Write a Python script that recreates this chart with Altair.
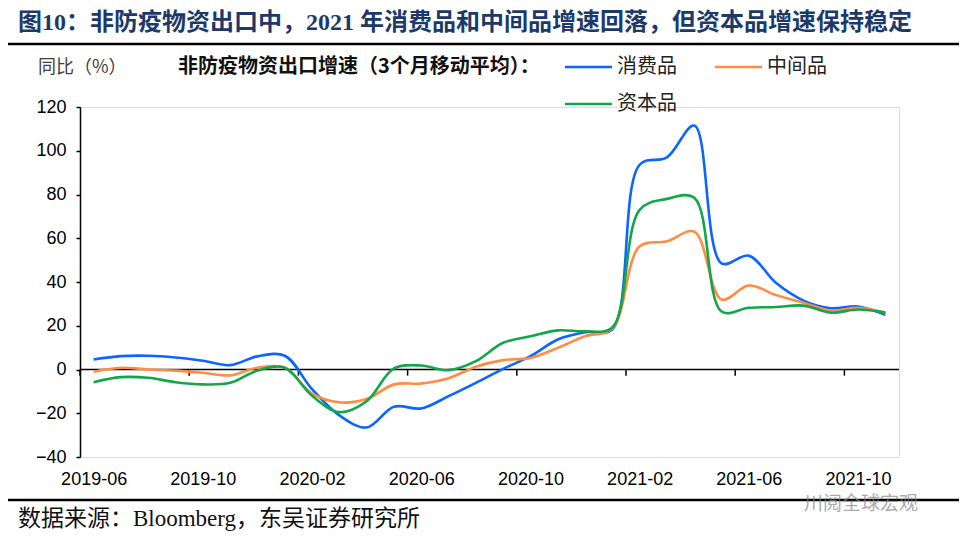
import json
import altair as alt
import pandas as pd

# ---------------- data ----------------
months = [
    "2019-06", "2019-07", "2019-08", "2019-09", "2019-10", "2019-11", "2019-12",
    "2020-01", "2020-02", "2020-03", "2020-04", "2020-05", "2020-06", "2020-07",
    "2020-08", "2020-09", "2020-10", "2020-11", "2020-12", "2021-01", "2021-02",
    "2021-03", "2021-04", "2021-05", "2021-06", "2021-07", "2021-08", "2021-09",
    "2021-10", "2021-11",
]
consumer = [4.6, 6.1, 6.3, 5.5, 4.0, 2.0, 6.0, 6.3, -9.0, -21.0, -26.5, -17.0,
            -17.8, -12.2, -6.1, 0.3, 6.1, 13.7, 17.0, 18.3, 93.6, 97.0, 111.5,
            48.5, 52.0, 39.5, 31.5, 28.0, 28.8, 25.0]
intermediate = [-1.0, 0.8, 0.0, -0.5, -1.5, -2.7, 0.8, 0.8, -11.0, -15.0, -13.5,
                -6.8, -6.4, -4.0, 1.3, 4.3, 5.3, 9.9, 15.2, 18.7, 56.3, 58.6,
                63.0, 32.0, 38.4, 34.0, 30.5, 27.0, 28.2, 26.0]
capital = [-5.8, -3.5, -3.8, -5.8, -6.8, -6.1, -0.5, 0.8, -12.0, -19.5, -14.5,
           0.5, 1.8, -0.3, 3.8, 12.2, 15.2, 17.9, 17.5, 19.2, 73.0, 78.0, 78.5,
           26.5, 28.2, 28.6, 29.2, 26.0, 27.4, 26.0]

series_names = ["消费品", "中间品", "资本品"]
series_values = [consumer, intermediate, capital]
colors = ["#0A66FF", "#FF8C42", "#12A64B"]

x_label_idx = [0, 4, 8, 12, 16, 20, 24, 28]          # 2019-06, 2019-10, ...
x_tick_bounds = [-0.5, 3.5, 7.5, 11.5, 15.5, 19.5, 23.5, 27.5]
y_ticks = [-40, -20, 0, 20, 40, 60, 80, 100, 120]

title_text = "图10：非防疫物资出口中，2021 年消费品和中间品增速回落，但资本品增速保持稳定"
legend_header = "非防疫物资出口增速（3个月移动平均）："
y_label = "同比（%）"
source_text = "数据来源：Bloomberg，东吴证券研究所"
watermark = "川阅全球宏观"

# ---------------- build table ----------------
rows = []
for name, vals in zip(series_names, series_values):
    for i, (m, v) in enumerate(zip(months, vals)):
        rows.append({"idx": i, "month": m, "series": name, "value": v})
df = pd.DataFrame(rows)

W, H = 819, 350
x_scale = alt.Scale(domain=[-0.5, len(months) - 0.5], nice=False, zero=False)
y_scale = alt.Scale(domain=[-40, 120], nice=False, zero=False)

label_expr = json.dumps(months) + "[datum.value]"

base = alt.Chart(df)

x_enc = alt.X(
    "idx:Q", scale=x_scale,
    axis=alt.Axis(values=x_label_idx, labelExpr=label_expr, domain=False,
                  ticks=False, grid=False, title=None, labelFontSize=18,
                  labelFont="Liberation Sans", labelColor="#000000",
                  labelPadding=13),
)
y_enc = alt.Y(
    "value:Q", scale=y_scale,
    axis=alt.Axis(values=y_ticks, grid=False, title=None, tickSize=4,
                  tickColor="#000000", tickWidth=1.5, domainColor="#000000",
                  domainWidth=1.5, labelFontSize=18, labelFont="Liberation Sans",
                  labelColor="#000000", labelPadding=10),
)

line_layers = []
for name, col in zip(series_names, colors):
    line_layers.append(
        base.transform_filter(alt.datum.series == name)
        .mark_line(interpolate="catmull-rom", strokeWidth=2.6, color=col)
        .encode(x=x_enc, y=y_enc)
    )

zero_line = alt.Chart(pd.DataFrame({"z": [0]})).mark_rule(
    color="#000000", strokeWidth=1.5
).encode(y=alt.Y("z:Q", scale=y_scale))

ticks_df = pd.DataFrame({"b": x_tick_bounds, "y0": [0] * len(x_tick_bounds),
                         "y1": [-2.8] * len(x_tick_bounds)})
x_ticks = alt.Chart(ticks_df).mark_rule(color="#000000", strokeWidth=1.5).encode(
    x=alt.X("b:Q", scale=x_scale),
    y=alt.Y("y0:Q", scale=y_scale),
    y2="y1:Q",
)

def text_at(txt, x, y, size, color="#000000", weight="normal", font="Noto Sans CJK SC",
            align="left", opacity=1.0):
    return alt.Chart(pd.DataFrame({"t": [txt]})).mark_text(
        align=align, baseline="middle", fontSize=size, fontWeight=weight,
        font=font, color=color, opacity=opacity,
    ).encode(x=alt.value(x), y=alt.value(y), text="t:N")

def hline(x1, x2, y, color, width):
    return alt.Chart(pd.DataFrame({"a": [0]})).mark_rule(
        color=color, strokeWidth=width
    ).encode(x=alt.value(x1), x2=alt.value(x2), y=alt.value(y))

decor = [
    text_at(title_text, -62, -84, 24, color="#1B3A6B", weight="bold",
            font="Liberation Serif, Noto Sans CJK SC"),
    hline(-75, 890, -63, "#000000", 2.5),
    text_at(y_label, -42, -39, 18, color="#404040"),
    text_at(legend_header, 98, -40, 20, color="#111111", weight="bold"),
    hline(485, 532, -40, colors[0], 2.6),
    text_at(series_names[0], 537, -40, 20, color="#222222"),
    hline(635, 682, -40, colors[1], 2.6),
    text_at(series_names[1], 687, -40, 20, color="#222222"),
    hline(485, 532, -3, colors[2], 2.6),
    text_at(series_names[2], 537, -3, 20, color="#222222"),
    hline(-75, 890, 393, "#000000", 2.5),
    text_at(watermark, 724, 397, 19, color="#888888", opacity=0.7),
    text_at(source_text, -62, 412, 23, color="#111111",
            font="Liberation Serif, Noto Sans CJK SC"),
]

chart = alt.layer(zero_line, x_ticks, *line_layers, *decor).properties(
    width=W, height=H,
    autosize=alt.AutoSizeParams(type="none"),
    padding={"left": 72, "top": 99, "right": 60, "bottom": 75},
).configure_view(stroke=None).configure(background="#ffffff")

chart.save("out.html", embed_options={"renderer": "svg", "actions": False})
